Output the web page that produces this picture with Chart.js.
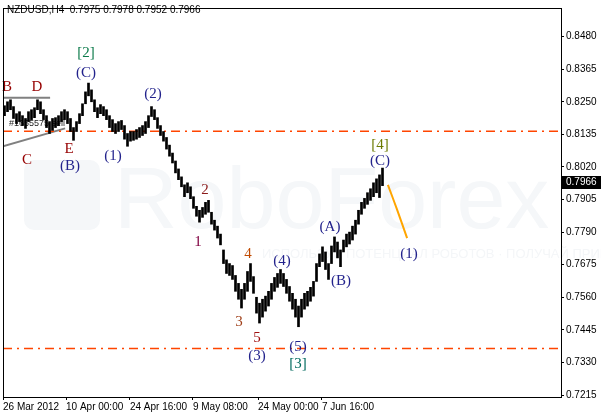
<!DOCTYPE html>
<html>
<head>
<meta charset="utf-8">
<script src="https://cdn.jsdelivr.net/npm/chart.js@4.4.1/dist/chart.umd.min.js"></script>
<style>
  html, body { margin: 0; padding: 0; background: #fff; }
  #wrap { width: 601px; height: 415px; }
</style>
</head>
<body>
<div id="wrap"><canvas id="chart" width="601" height="415"></canvas></div>
<script>
// NZDUSD H4, one bar per 3 px slot (high / low)
const highs = [
  0.8236, 0.8250, 0.8257, 0.8233, 0.8208, 0.8215, 0.8201, 0.8191, 0.8215, 0.8222,
  0.8229, 0.8257, 0.8250, 0.8222, 0.8201, 0.8180, 0.8191, 0.8194, 0.8201, 0.8215,
  0.8222, 0.8215, 0.8191, 0.8159, 0.8180, 0.8208, 0.8243, 0.8285, 0.8316, 0.8292,
  0.8257, 0.8229, 0.8240, 0.8233, 0.8222, 0.8201, 0.8187, 0.8173, 0.8180, 0.8184,
  0.8166, 0.8138, 0.8145, 0.8145, 0.8152, 0.8159, 0.8166, 0.8180, 0.8201, 0.8233,
  0.8222, 0.8194, 0.8166, 0.8145, 0.8124, 0.8097, 0.8069, 0.8041, 0.8013, 0.7985,
  0.7957, 0.7964, 0.7950, 0.7915, 0.7881, 0.7867, 0.7877, 0.7895, 0.7902, 0.7860,
  0.7832, 0.7811, 0.7783, 0.7727, 0.7692, 0.7679, 0.7672, 0.7637, 0.7609, 0.7588,
  0.7609, 0.7651, 0.7679, 0.7633, 0.7560, 0.7539, 0.7553, 0.7564, 0.7581, 0.7609,
  0.7630, 0.7644, 0.7658, 0.7644, 0.7623, 0.7598, 0.7574, 0.7553, 0.7529, 0.7553,
  0.7574, 0.7581, 0.7595, 0.7616, 0.7679, 0.7713, 0.7738, 0.7720, 0.7679, 0.7741,
  0.7773, 0.7755, 0.7727, 0.7762, 0.7783, 0.7790, 0.7811, 0.7832, 0.7867, 0.7895,
  0.7909, 0.7929, 0.7943, 0.7964, 0.7978, 0.7992, 0.8016
];
const lows = [
  0.8201, 0.8215, 0.8222, 0.8191, 0.8173, 0.8180, 0.8166, 0.8156, 0.8180, 0.8187,
  0.8194, 0.8222, 0.8208, 0.8187, 0.8159, 0.8138, 0.8149, 0.8159, 0.8166, 0.8180,
  0.8187, 0.8173, 0.8145, 0.8114, 0.8145, 0.8173, 0.8201, 0.8243, 0.8271, 0.8250,
  0.8215, 0.8194, 0.8208, 0.8201, 0.8187, 0.8159, 0.8145, 0.8138, 0.8145, 0.8152,
  0.8118, 0.8093, 0.8111, 0.8114, 0.8118, 0.8124, 0.8131, 0.8138, 0.8159, 0.8198,
  0.8187, 0.8156, 0.8131, 0.8111, 0.8083, 0.8058, 0.8034, 0.7999, 0.7975, 0.7950,
  0.7915, 0.7929, 0.7908, 0.7874, 0.7846, 0.7825, 0.7842, 0.7853, 0.7860, 0.7818,
  0.7797, 0.7769, 0.7745, 0.7679, 0.7644, 0.7637, 0.7623, 0.7581, 0.7553, 0.7522,
  0.7553, 0.7581, 0.7616, 0.7574, 0.7504, 0.7469, 0.7490, 0.7511, 0.7529, 0.7553,
  0.7581, 0.7595, 0.7609, 0.7598, 0.7574, 0.7546, 0.7518, 0.7490, 0.7456, 0.7490,
  0.7518, 0.7529, 0.7546, 0.7564, 0.7616, 0.7668, 0.7686, 0.7658, 0.7623, 0.7679,
  0.7720, 0.7699, 0.7668, 0.7720, 0.7738, 0.7748, 0.7762, 0.7783, 0.7818, 0.7853,
  0.7874, 0.7888, 0.7902, 0.7915, 0.7929, 0.7912, 0.7954
];
const quote = [0.7975, 0.7978, 0.7952, 0.7966]; // open high low close

const yTicks = [0.7215, 0.7330, 0.7445, 0.7560, 0.7675, 0.7790, 0.7905, 0.8020, 0.8135, 0.8250, 0.8365, 0.8480];
const dateTickPos = [-0.5, 20.5, 41.8, 62.8, 84.5, 105.8];
const dateLabels = ['26 Mar 2012', '10 Apr 00:00', '24 Apr 16:00', '9 May 08:00', '24 May 00:00', '7 Jun 16:00'];

// dash-dot levels
const levels = [0.8146, 0.7379];
// triangle lines
const triTopX = [-0.5, 15.2], triTopY = [0.8264, 0.8264];
const triLowX = [-0.5, 20.2], triLowY = [0.8093, 0.8156];
// forecast
const fcX = [127.8, 130.8, 134.2], fcY = [0.7957, 0.7871, 0.7769];

// wave marks: text, bar slot, price, colour
const waveText  = ['[2]', '(C)', 'B', 'D', '(2)', 'C', 'E', '(B)', '(1)', '2', '1', '4', '3', '5', '(3)', '(4)', '(5)', '[3]', '(A)', '(B)', '[4]', '(C)', '(1)'];
const waveSlot  = [27.2, 27.2, 0.8, 10.8, 49.5, 7.5, 21.5, 21.8, 36.2, 66.8, 64.5, 81.2, 78.2, 84.2, 84.2, 92.5, 97.8, 97.8, 108.5, 112.2, 125.2, 125.2, 134.8];
const wavePrice = [0.8421, 0.8351, 0.8302, 0.8302, 0.8278, 0.8044, 0.8083, 0.8024, 0.8058, 0.7940, 0.7755, 0.7713, 0.7473, 0.7417, 0.7354, 0.7689, 0.7386, 0.7325, 0.7807, 0.7616, 0.8097, 0.8041, 0.7713];
const waveColor = ['#0b7a4a', '#22228c', '#960000', '#960000', '#22228c', '#960000', '#960000', '#22228c', '#22228c',
                   '#8b1a1a', '#800040', '#c04a00', '#a0401a', '#a01010', '#22228c', '#22228c', '#22228c', '#006a5e',
                   '#22228c', '#22228c', '#6b7a00', '#22228c', '#22228c'];

const bars = highs.map((h, i) => ({ x: i, y: [lows[i], h] }));
const pts = (xs, ys) => xs.map((x, i) => ({ x: x, y: ys[i] }));

const overlay = {
  id: 'overlay',
  beforeDatasetsDraw(chart) {
    const ctx = chart.ctx;
    ctx.save();
    // watermark
    ctx.fillStyle = '#f5f7f9';
    ctx.beginPath();
    ctx.roundRect(24, 160, 76, 70, 10);
    ctx.fill();
    ctx.font = '88px "Liberation Sans"';
    ctx.textBaseline = 'alphabetic';
    ctx.fillText('RoboForex', 114, 228);
    ctx.fillStyle = '#f4f6f8';
    ctx.font = '13px "Liberation Sans"';
    ctx.fillText('ИСПОЛЬЗУЙ ПОТЕНЦИАЛ РОБОТОВ · ПОЛУЧАЙ ПРИБЫЛЬ', 262, 258);
    ctx.fillStyle = '#222';
    ctx.font = '9px "Liberation Sans"';
    ctx.textBaseline = 'middle';
    ctx.fillText('#1655575 sell', 9, 124);
    ctx.restore();
  },
  afterDatasetsDraw(chart) {
    const ctx = chart.ctx, xs = chart.scales.x, ys = chart.scales.y;
    ctx.save();
    ctx.font = '15px "Liberation Serif"';
    ctx.textAlign = 'center';
    ctx.textBaseline = 'middle';
    waveText.forEach((t, i) => {
      ctx.fillStyle = waveColor[i];
      ctx.fillText(t, xs.getPixelForValue(waveSlot[i]), ys.getPixelForValue(wavePrice[i]));
    });
    ctx.restore();
  },
  afterDraw(chart) {
    const ctx = chart.ctx, a = chart.chartArea, ys = chart.scales.y;
    ctx.save();
    ctx.strokeStyle = '#000';
    ctx.lineWidth = 1;
    ctx.strokeRect(a.left + 0.5, a.top + 0.5, a.right - a.left, a.bottom - a.top);
    ctx.fillStyle = '#000';
    ctx.font = '10px "Liberation Sans"';
    ctx.textBaseline = 'middle';
    ctx.fillText('NZDUSD,H4  ' + quote.map(v => v.toFixed(4)).join(' '), 7, 10);
    const py = Math.round(ys.getPixelForValue(quote[3]));
    ctx.fillRect(a.right + 1, py - 6, 40, 13);
    ctx.fillStyle = '#fff';
    ctx.fillText(quote[3].toFixed(4), a.right + 5, py + 0.5);
    ctx.restore();
  }
};

const lineDs = (data, color, width, dash) => ({
  type: 'line', data: data, borderColor: color, borderWidth: width, borderDash: dash || [],
  pointRadius: 0, fill: false, order: 1
});

const datasets = [
  { type: 'bar', data: bars, backgroundColor: '#000', barThickness: 2, order: 0 },
  ...levels.map(l => lineDs(pts([-0.5, 185.5], [l, l]), '#ff4500', 1.5, [9, 5, 2, 5])),
  lineDs(pts(triTopX, triTopY), '#808080', 2),
  lineDs(pts(triLowX, triLowY), '#808080', 2),
  Object.assign(lineDs(pts(fcX, fcY), '#ffa500', 2), { tension: 0.4 })
];

new Chart(document.getElementById('chart'), {
  type: 'bar',
  data: { datasets: datasets },
  options: {
    responsive: false,
    animation: false,
    devicePixelRatio: 1,
    layout: { padding: { left: 3, top: 3, right: 0, bottom: 0 } },
    plugins: { legend: { display: false }, tooltip: { enabled: false } },
    scales: {
      x: {
        type: 'linear', min: -0.5, max: 185.5, offset: false,
        grid: { drawOnChartArea: false, tickLength: 3, color: '#000', offset: false },
        border: { display: true, color: '#000' },
        afterBuildTicks: s => { s.ticks = dateTickPos.map(v => ({ value: v })); },
        afterFit: s => { s.height = 18; },
        ticks: {
          autoSkip: false, maxRotation: 0, align: 'start', padding: 1,
          color: '#000', font: { family: 'Liberation Sans', size: 10 },
          callback: (v, i) => dateLabels[i]
        }
      },
      y: {
        position: 'right', min: 0.7208, max: 0.8581,
        grid: { drawOnChartArea: false, tickLength: 3, color: '#000' },
        border: { display: true, color: '#000' },
        afterBuildTicks: s => { s.ticks = yTicks.map(v => ({ value: v })); },
        afterFit: s => { s.width = 40; },
        ticks: {
          padding: 2, color: '#000', font: { family: 'Liberation Sans', size: 10 },
          callback: v => v.toFixed(4)
        }
      }
    }
  },
  plugins: [overlay]
});
</script>
</body>
</html>
